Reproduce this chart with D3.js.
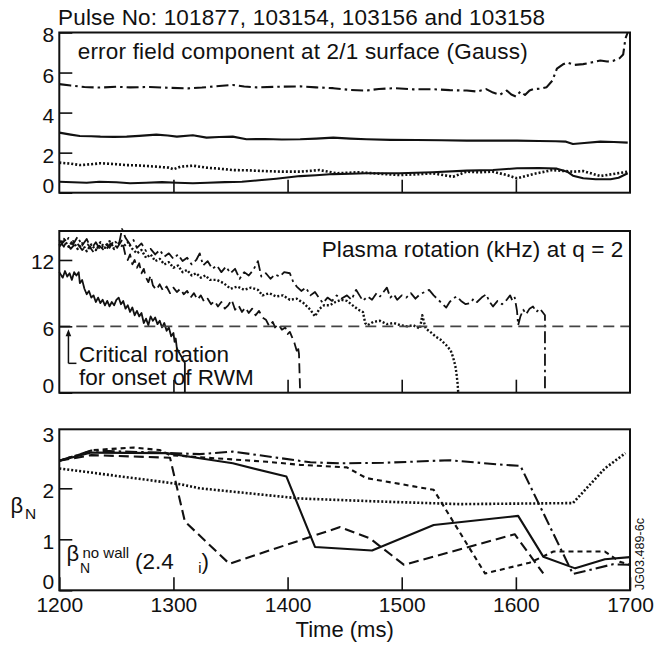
<!DOCTYPE html>
<html><head><meta charset="utf-8">
<script src="https://cdn.jsdelivr.net/npm/d3@7"></script>
<style>body{margin:0;background:#fff}svg{display:block}</style>
</head><body>
<svg id="c" width="669" height="648"></svg>
<script>
// ---------- DATA ----------
const xTicks = [1200, 1300, 1400, 1500, 1600, 1700];
const errTicks = [0, 2, 4, 6, 8];
const rotTicks = [0, 6, 12];
const betaTicks = [0, 1, 2, 3];
const criticalRotation = 6;

// Panel 1: error field component at 2/1 surface (Gauss)
const errDashDot = [[1200,5.42],[1210,5.35],[1222,5.28],[1235,5.25],[1250,5.29],[1262,5.26],[1279,5.28],[1295,5.24],[1313,5.21],[1325,5.25],[1340,5.33],[1352,5.38],[1362,5.3],[1373,5.26],[1390,5.29],[1411,5.31],[1425,5.26],[1440,5.22],[1455,5.13],[1469,5.1],[1480,5.18],[1494,5.22],[1510,5.16],[1527,5.17],[1542,5.12],[1557,5.1],[1566,5.05],[1574,5.17],[1580,5.0],[1586,4.89],[1592,5.1],[1596,4.9],[1600,4.8],[1604,5.05],[1608,4.88],[1612,5.1],[1615,5.17],[1622,5.2],[1627,5.27],[1632,5.6],[1636,6.2],[1641,6.4],[1645,6.5],[1651,6.38],[1659,6.42],[1666,6.5],[1674,6.6],[1680,6.55],[1685,6.58],[1691,6.72],[1694,6.9],[1696,7.7],[1698,8.0]];
const errSolidUpper = [[1200,3.0],[1210,2.9],[1218,2.83],[1228,2.82],[1236,2.8],[1248,2.79],[1259,2.8],[1270,2.84],[1285,2.9],[1295,2.86],[1303,2.8],[1317,2.87],[1329,2.75],[1340,2.78],[1352,2.8],[1364,2.67],[1380,2.68],[1395,2.66],[1411,2.67],[1425,2.7],[1440,2.75],[1455,2.7],[1469,2.67],[1490,2.64],[1513,2.63],[1535,2.62],[1557,2.6],[1580,2.6],[1601,2.6],[1620,2.58],[1635,2.57],[1644,2.55],[1650,2.43],[1660,2.48],[1674,2.55],[1686,2.53],[1698,2.5]];
const errDotted = [[1200,1.5],[1210,1.45],[1218,1.38],[1228,1.42],[1236,1.47],[1248,1.43],[1259,1.38],[1270,1.36],[1285,1.3],[1296,1.25],[1300,1.17],[1306,1.3],[1317,1.35],[1329,1.25],[1340,1.2],[1352,1.13],[1364,1.12],[1380,1.08],[1395,1.05],[1411,1.05],[1428,1.13],[1443,0.97],[1462,1.02],[1480,0.95],[1498,0.88],[1513,0.92],[1527,0.97],[1545,0.8],[1557,1.05],[1568,1.02],[1580,1.05],[1592,0.88],[1601,0.72],[1615,0.93],[1632,1.13],[1650,1.05],[1659,1.08],[1674,0.83],[1685,0.93],[1698,1.05]];
const errSolidLower = [[1200,0.55],[1212,0.52],[1224,0.5],[1235,0.55],[1250,0.52],[1262,0.47],[1276,0.5],[1290,0.53],[1303,0.5],[1317,0.47],[1330,0.5],[1345,0.53],[1360,0.55],[1375,0.62],[1390,0.7],[1411,0.83],[1425,0.87],[1440,0.93],[1455,0.95],[1469,0.97],[1498,0.97],[1527,1.02],[1557,1.1],[1580,1.13],[1601,1.22],[1620,1.23],[1636,1.2],[1645,1.05],[1650,0.85],[1659,0.72],[1670,0.67],[1683,0.67],[1690,0.75],[1698,0.97]];

// Panel 2: plasma rotation (kHz) at q = 2
const rotSolid = [[1200,10.9],[1203,10.4],[1205,11.0],[1207,10.5],[1209,10.8],[1211,10.2],[1213,10.9],[1215,10.6],[1217,10.9],[1218,9.9],[1220,10.2],[1222,9.4],[1224,8.9],[1226,9.2],[1228,8.6],[1230,8.8],[1232,8.2],[1234,8.6],[1236,8.1],[1238,8.4],[1240,7.9],[1242,8.3],[1244,7.8],[1246,8.2],[1248,7.9],[1250,8.4],[1252,8.6],[1254,8.0],[1256,8.3],[1258,7.6],[1260,7.9],[1262,7.3],[1264,7.7],[1266,7.0],[1268,7.4],[1270,6.9],[1272,7.2],[1274,6.3],[1276,6.7],[1278,6.1],[1280,6.9],[1282,6.5],[1284,6.8],[1286,6.2],[1288,6.5],[1290,5.9],[1292,6.3],[1294,5.6],[1296,5.9],[1298,5.1],[1300,5.4],[1301,4.6],[1302,4.9],[1303,4.0],[1310,2.7],[1310,0]];
const rotDashed = [[1200,13.2],[1205,13.8],[1210,13.0],[1215,13.6],[1220,12.9],[1225,13.4],[1230,12.7],[1235,13.3],[1240,12.8],[1245,13.5],[1250,13.0],[1255,13.8],[1258,12.4],[1260,12.0],[1262,12.5],[1264,11.6],[1266,12.0],[1268,11.3],[1270,11.7],[1272,10.8],[1274,11.2],[1276,10.4],[1278,10.0],[1280,10.6],[1282,9.7],[1285,9.3],[1288,9.8],[1291,9.2],[1294,9.6],[1297,9.0],[1300,9.5],[1303,9.1],[1306,9.4],[1309,8.9],[1312,9.2],[1315,8.6],[1318,9.0],[1321,8.4],[1324,8.8],[1327,8.2],[1330,8.5],[1333,8.0],[1336,8.3],[1339,7.8],[1342,8.2],[1345,7.6],[1348,7.9],[1351,8.4],[1354,7.5],[1357,7.9],[1360,7.3],[1363,7.7],[1366,7.2],[1369,7.6],[1372,7.0],[1375,7.4],[1378,6.8],[1381,6.6],[1384,6.0],[1387,6.4],[1389,5.9],[1392,6.2],[1395,5.7],[1398,5.9],[1400,5.3],[1402,5.5],[1404,5.0],[1406,4.5],[1408,3.8],[1409,4.2],[1410,3.5],[1411,0]];
const rotDotted = [[1200,13.3],[1204,13.9],[1208,13.2],[1212,13.7],[1216,13.0],[1220,13.5],[1224,12.8],[1228,13.4],[1232,12.9],[1236,13.6],[1240,13.1],[1244,13.7],[1248,13.0],[1252,13.5],[1256,13.2],[1260,13.6],[1264,13.0],[1268,12.6],[1272,12.9],[1276,12.2],[1280,12.5],[1284,11.9],[1288,12.1],[1292,11.6],[1296,11.8],[1300,11.3],[1304,11.5],[1308,10.9],[1312,11.1],[1316,10.6],[1320,10.8],[1324,10.4],[1328,10.6],[1332,10.2],[1338,10.2],[1344,9.9],[1350,9.4],[1356,9.6],[1362,9.3],[1368,9.5],[1374,9.3],[1378,8.8],[1384,9.0],[1390,8.7],[1396,8.8],[1402,8.4],[1408,8.5],[1414,8.1],[1420,7.5],[1424,6.9],[1428,7.6],[1432,7.9],[1437,7.9],[1442,8.2],[1447,8.4],[1452,8.3],[1457,7.9],[1462,7.5],[1466,7.3],[1468,6.3],[1470,6.1],[1475,6.4],[1481,6.5],[1487,6.2],[1493,6.3],[1499,6.1],[1505,6.0],[1510,6.1],[1516,5.8],[1518,7.0],[1521,5.8],[1525,5.5],[1530,5.05],[1534,4.8],[1539,4.3],[1543,3.8],[1545,3.2],[1547,2.4],[1548,1.7],[1549,0.8],[1549.5,0]];
const rotDashDot = [[1200,13.8],[1204,13.2],[1208,14.0],[1212,13.4],[1216,14.1],[1220,13.3],[1224,13.9],[1228,13.0],[1232,13.6],[1236,12.9],[1240,13.5],[1244,13.1],[1248,13.8],[1252,13.3],[1255,14.8],[1258,14.0],[1262,13.4],[1265,13.8],[1268,13.1],[1272,13.5],[1276,12.8],[1280,13.0],[1284,12.5],[1288,12.9],[1292,12.3],[1296,12.6],[1300,12.1],[1304,12.5],[1308,11.9],[1312,12.2],[1316,11.6],[1320,12.0],[1323,12.6],[1326,11.5],[1330,11.9],[1334,11.2],[1338,11.5],[1342,10.9],[1346,11.4],[1350,10.8],[1354,11.2],[1358,10.3],[1362,10.9],[1366,10.6],[1370,11.1],[1374,11.9],[1377,10.5],[1381,10.8],[1385,10.3],[1389,10.7],[1393,10.5],[1397,10.9],[1402,10.8],[1405,10.0],[1408,9.6],[1412,9.2],[1416,9.5],[1420,8.8],[1424,9.1],[1428,8.5],[1431,8.1],[1435,8.6],[1439,8.3],[1443,8.8],[1447,8.5],[1452,8.8],[1456,8.4],[1460,9.3],[1463,8.8],[1466,8.3],[1470,8.7],[1474,8.4],[1478,9.0],[1481,8.7],[1484,9.1],[1487,9.5],[1490,8.6],[1493,8.9],[1496,8.4],[1500,8.8],[1504,8.6],[1508,9.0],[1512,8.5],[1516,8.9],[1520,9.1],[1524,9.3],[1528,8.8],[1532,8.4],[1536,8.0],[1539,7.7],[1542,8.2],[1545,8.5],[1548,8.7],[1552,8.3],[1556,8.0],[1560,8.1],[1563,8.5],[1566,8.2],[1570,8.6],[1574,8.9],[1577,8.2],[1580,7.8],[1584,8.3],[1588,8.0],[1592,8.4],[1595,8.8],[1597,8.3],[1599,8.6],[1601,7.4],[1602,6.1],[1604,6.9],[1606.5,7.5],[1609,7.1],[1612,7.6],[1615,7.8],[1618,7.3],[1621,7.6],[1624,7.2],[1625.5,7.0],[1625.5,0]];

// Panel 3: beta_N
const betaSolid = [[1200,2.54],[1228,2.7],[1294,2.69],[1323,2.59],[1352,2.49],[1399,2.23],[1424,0.85],[1474,0.78],[1528,1.28],[1602,1.46],[1624,0.66],[1652,0.43],[1678,0.61],[1700,0.65]];
const betaDashed = [[1200,2.54],[1228,2.65],[1297,2.6],[1310,1.35],[1349,0.52],[1446,1.24],[1472,1.02],[1502,0.5],[1599,1.1],[1624,0.33]];
const betaShortDash = [[1200,2.54],[1230,2.75],[1265,2.8],[1288,2.75],[1297,2.65],[1323,2.61],[1382,2.52],[1411,2.46],[1452,2.41],[1469,2.2],[1528,1.97],[1573,0.33],[1612,0.54],[1633,0.76],[1678,0.76],[1691,0.56],[1700,0.5]];
const betaDotted = [[1200,2.39],[1306,2.08],[1323,2.0],[1411,1.8],[1482,1.74],[1551,1.69],[1650,1.71],[1678,2.39],[1696,2.69]];
const betaDashDot = [[1200,2.54],[1228,2.74],[1288,2.7],[1323,2.67],[1352,2.72],[1420,2.51],[1446,2.49],[1484,2.5],[1542,2.55],[1589,2.46],[1604,2.44],[1650,0.32],[1685,0.51],[1700,0.5]];

// ---------- DRAWING ----------
const FONT = "'Liberation Sans', Arial, Helvetica, sans-serif";
const INK = "#111";
const svg = d3.select("#c");
svg.append("rect").attr("width", 669).attr("height", 648).attr("fill", "#fff");

const x = d3.scaleLinear().domain([1200, 1700]).range([59.3, 630]);

const styles = {
  solid:     {dash: null, w: 2.1},
  dashed:    {dash: "10,5", w: 2.1},
  shortdash: {dash: "5,4", w: 2.1},
  dotted:    {dash: "2,2", w: 2.6},
  dashdot:   {dash: "12,4,2.5,4", w: 2.1}
};

function panel(cfg) {
  const g = svg.append("g");
  const y = d3.scaleLinear().domain(cfg.domain).range([cfg.bottom, cfg.top]);
  const line = d3.line().x(d => x(d[0])).y(d => y(d[1]));
  cfg.series.forEach(s => {
    const st = styles[s.style];
    g.append("path").attr("d", line(s.data)).attr("fill", "none")
      .attr("stroke", INK).attr("stroke-width", s.w || st.w)
      .attr("stroke-linejoin", "round")
      .attr("stroke-dasharray", st.dash);
  });
  if (cfg.extra) cfg.extra(g, y);
  g.append("rect").attr("x", x(1200)).attr("y", cfg.top)
    .attr("width", x(1700) - x(1200)).attr("height", cfg.bottom - cfg.top)
    .attr("fill", "none").attr("stroke", INK).attr("stroke-width", 2);
  const ga = g.append("g").attr("transform", `translate(${x(1200)},0)`)
    .call(d3.axisLeft(y).tickValues(cfg.yTicks).tickFormat(d3.format("d"))
      .tickSizeInner(-13).tickSizeOuter(0).tickPadding(5));
  ga.select(".domain").remove();
  ga.selectAll("line").attr("stroke", INK).attr("stroke-width", 1.6)
    .attr("opacity", d => cfg.hideTick && cfg.hideTick.includes(d) ? 0 : 1);
  ga.selectAll("text").attr("font-size", 21).attr("font-family", FONT).attr("fill", INK)
    .attr("transform", d => `translate(0,${cfg.labelShift(d)})`);
  const gb = g.append("g").attr("transform", `translate(0,${cfg.bottom})`)
    .call(d3.axisBottom(x).tickValues(cfg.xLabels ? xTicks : xTicks.slice(1, -1))
      .tickSizeInner(-13).tickSizeOuter(0).tickPadding(7)
      .tickFormat(cfg.xLabels ? d3.format("d") : () => ""));
  gb.select(".domain").remove();
  gb.selectAll("line").attr("stroke", INK).attr("stroke-width", 1.6);
  gb.selectAll("text").attr("font-size", 21).attr("font-family", FONT).attr("fill", INK);
  return y;
}

// Panel 1
panel({
  top: 32.5, bottom: 192.7, domain: [0, 8], yTicks: errTicks,
  labelShift: d => d === 0 ? -6.5 : (d === 8 ? 2.5 : 3),
  series: [
    {data: errDashDot, style: "dashdot"},
    {data: errSolidUpper, style: "solid"},
    {data: errDotted, style: "dotted"},
    {data: errSolidLower, style: "solid"}
  ]
});

// Panel 2
panel({
  top: 231, bottom: 392.7, domain: [0, 14.62], yTicks: rotTicks,
  labelShift: d => d === 0 ? -7 : 2,
  series: [
    {data: rotSolid, style: "solid", w: 1.8},
    {data: rotDashed, style: "dashed", w: 1.8},
    {data: rotDotted, style: "dotted", w: 2.4},
    {data: rotDashDot, style: "dashdot", w: 1.8}
  ],
  extra: (g, y) => {
    g.append("line").attr("x1", x(1200)).attr("x2", x(1700))
      .attr("y1", y(criticalRotation)).attr("y2", y(criticalRotation))
      .attr("stroke", "#444").attr("stroke-width", 1.6).attr("stroke-dasharray", "11,6");
    const ax = x(1208), ay0 = y(criticalRotation) + 3, ay1 = y(criticalRotation) + 37;
    g.append("path").attr("d", `M${ax},${ay1}V${ay0 + 6}`).attr("stroke", INK).attr("stroke-width", 1.5).attr("fill", "none");
    g.append("path").attr("d", `M${ax},${ay1}H${ax + 8}`).attr("stroke", INK).attr("stroke-width", 1.5).attr("fill", "none");
    g.append("path").attr("d", `M${ax - 2.8},${ay0 + 7}L${ax},${ay0}L${ax + 2.8},${ay0 + 7}Z`).attr("fill", INK);
  }
});

// Panel 3
panel({
  top: 429.3, bottom: 590.3, domain: [0, 3.157], yTicks: betaTicks, hideTick: [3],
  labelShift: d => d === 0 ? -9 : (d === 3 ? -2.5 : 2),
  xLabels: true,
  series: [
    {data: betaDotted, style: "dotted"},
    {data: betaDashDot, style: "dashdot"},
    {data: betaShortDash, style: "shortdash"},
    {data: betaDashed, style: "dashed"},
    {data: betaSolid, style: "solid"}
  ]
});

// ---------- TEXTS ----------
function txt(xp, yp, s, size, opts = {}) {
  const t = svg.append("text").attr("x", xp).attr("y", yp).attr("font-family", FONT)
    .attr("font-size", size).attr("fill", INK).text(s);
  if (opts.len) t.attr("textLength", opts.len).attr("lengthAdjust", "spacing");
  if (opts.anchor) t.attr("text-anchor", opts.anchor);
  return t;
}
txt(58, 24.5, "Pulse No: 101877, 103154, 103156 and 103158", 22.5, {len: 487});
txt(77.7, 59.3, "error field component at 2/1 surface (Gauss)", 22.5, {len: 450});
txt(321.7, 256.7, "Plasma rotation (kHz) at q = 2", 22.5, {len: 301.6});
txt(79, 361.7, "Critical rotation", 22.5);
txt(79, 385, "for onset of RWM", 22.5);
txt(344.7, 637, "Time (ms)", 22, {anchor: "middle"});

// y label beta_N
txt(10.5, 513, "β", 22);
txt(25, 519, "N", 15.5);

// beta_N no-wall annotation
txt(66.5, 561, "β", 22);
txt(80, 573.3, "N", 14);
txt(82.5, 557.5, "no wall", 15);
txt(135, 568.5, "(2.4", 22.5);
txt(198.3, 573.3, "i", 14.5);
txt(201.5, 568.5, ")", 22.5);

svg.append("text").attr("transform", "translate(644,590) rotate(-90)")
  .attr("font-family", FONT).attr("font-size", 12.5).attr("fill", INK)
  .attr("textLength", 72).attr("lengthAdjust", "spacing").text("JG03.489-6c");
</script>
</body></html>
